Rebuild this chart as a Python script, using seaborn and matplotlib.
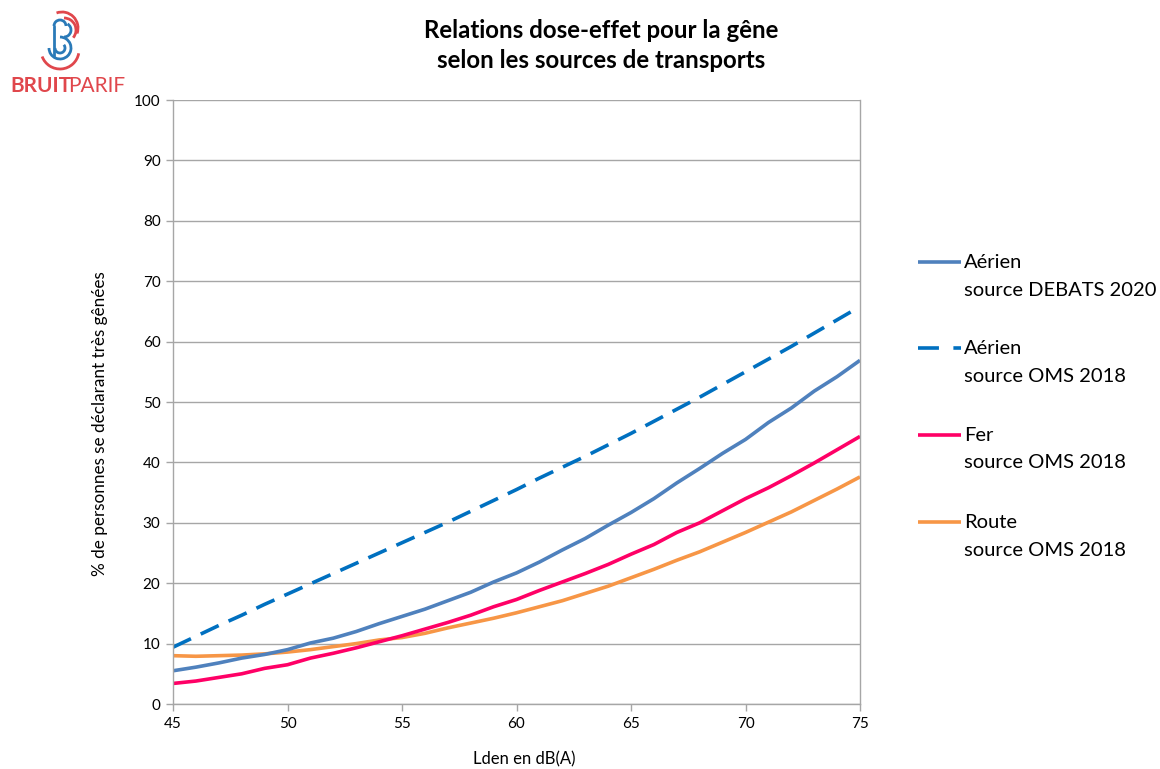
import numpy as np
import pandas as pd
import matplotlib
matplotlib.use("Agg")
import matplotlib.pyplot as plt
from matplotlib.lines import Line2D
from matplotlib.patches import Arc
import seaborn as sns

# Niveaux Lden (dB(A))
lden = list(range(45, 76))

# % de personnes se déclarant très gênées
aerien_debats = [5.5, 6.1, 6.8, 7.6, 8.2, 9.0, 10.1, 10.9, 12.0, 13.3, 14.5,
                 15.7, 17.1, 18.5, 20.2, 21.7, 23.5, 25.5, 27.4, 29.6, 31.7,
                 34.0, 36.6, 39.0, 41.5, 43.8, 46.6, 49.0, 51.8, 54.2, 56.9]
aerien_oms = [9.4, 11.2, 13.0, 14.7, 16.5, 18.2, 19.9, 21.6, 23.3, 25.0, 26.7,
              28.4, 30.1, 31.9, 33.7, 35.5, 37.4, 39.2, 41.0, 42.9, 44.8,
              46.8, 48.8, 50.8, 52.9, 55.0, 57.1, 59.2, 61.4, 63.6, 65.8]
fer_oms = [3.4, 3.8, 4.4, 5.0, 5.9, 6.5, 7.6, 8.4, 9.3, 10.3, 11.3,
           12.4, 13.5, 14.7, 16.1, 17.3, 18.8, 20.2, 21.6, 23.1, 24.8,
           26.4, 28.4, 30.0, 32.0, 34.0, 35.8, 37.8, 39.9, 42.1, 44.3]
route_oms = [8.0, 7.9, 8.0, 8.1, 8.3, 8.6, 9.0, 9.5, 10.0, 10.6, 11.0,
             11.7, 12.6, 13.4, 14.2, 15.1, 16.1, 17.1, 18.3, 19.5, 20.9,
             22.3, 23.8, 25.2, 26.8, 28.4, 30.1, 31.8, 33.7, 35.6, 37.6]

labels = ["Aérien\nsource DEBATS 2020", "Aérien\nsource OMS 2018",
          "Fer\nsource OMS 2018", "Route\nsource OMS 2018"]
colors = ["#4f81bd", "#0070c0", "#ff0066", "#f79646"]
styles = ["-", (0, (5.5, 3.0)), "-", "-"]

sns.set_theme(style="white")
plt.rcParams["font.family"] = ["Lato", "DejaVu Sans"]

df = pd.DataFrame({"Lden": lden, labels[0]: aerien_debats, labels[1]: aerien_oms,
                   labels[2]: fer_oms, labels[3]: route_oms})
long = df.melt(id_vars="Lden", var_name="serie", value_name="pct")

fig = plt.figure(figsize=(11.6, 7.69), dpi=100)
ax = fig.add_axes([173 / 1160, 1 - 704 / 769, (860 - 173) / 1160, (704 - 100) / 769])

draw_order = [3, 2, 0, 1]
for i in draw_order:
    sub = long[long["serie"] == labels[i]]
    sns.lineplot(data=sub, x="Lden", y="pct", ax=ax, color=colors[i],
                 linewidth=2.6, legend=False)
    ax.lines[-1].set_linestyle(styles[i])
    ax.lines[-1].set_solid_capstyle("butt")
    ax.lines[-1].set_dash_capstyle("butt")

grid_c = "#a6a6a6"
ax.set_xlim(45, 75)
ax.set_ylim(0, 100)
ax.set_xticks(range(45, 76, 5))
ax.set_yticks(range(0, 101, 10))
ax.yaxis.grid(True, color=grid_c, linewidth=1.0)
ax.xaxis.grid(False)
ax.set_axisbelow(True)
for s in ["left", "bottom", "right"]:
    ax.spines[s].set_visible(True)
    ax.spines[s].set_color(grid_c)
    ax.spines[s].set_linewidth(1.0)
ax.spines["top"].set_visible(False)
ax.tick_params(axis="both", which="major", direction="out", length=5, width=1.0,
               color=grid_c, labelsize=11, labelcolor="#000000", pad=4,
               bottom=True, left=True)
ax.set_xlabel("Lden en dB(A)", fontsize=12, color="#000000")
ax.set_ylabel("% de personnes se déclarant très gênées", fontsize=12.3,
              color="#000000")
ax.xaxis.set_label_coords(0.512, -0.078)
ax.yaxis.set_label_coords(-0.095, 0.465)

fig.text(0.518, 1 - 31 / 769, "Relations dose-effet pour la gêne", ha="center",
         va="center", fontsize=17.3, fontweight="bold", color="#000000")
fig.text(0.518, 1 - 60 / 769, "selon les sources de transports", ha="center",
         va="center", fontsize=17.3, fontweight="bold", color="#000000")

# Légende
leg_y = [262, 348, 435, 522]
for i, y in enumerate(leg_y):
    yf = 1 - y / 769
    fig.add_artist(Line2D([918 / 1160, 961 / 1160], [yf, yf], transform=fig.transFigure,
                          color=colors[i], linewidth=2.6,
                          linestyle=(0, (5.8, 4.0)) if i == 1 else "-",
                          solid_capstyle="butt", dash_capstyle="butt"))
    first, second = labels[i].split("\n")
    fig.text(964 / 1160, yf, first, ha="left", va="center", fontsize=14.5, color="#000000")
    fig.text(964 / 1160, 1 - (y + 28) / 769, second, ha="left", va="center",
             fontsize=14.5, color="#000000")

# Logo Bruitparif
red = "#e0474c"
blue = "#2a7ab8"
fig.text(10 / 1160, 1 - 86 / 769, "BRUIT", ha="left", va="center", fontsize=15,
         fontweight="bold", color=red)
fig.text(68 / 1160, 1 - 86 / 769, "PARIF", ha="left", va="center", fontsize=15,
         color=red)
logo = fig.add_axes([38 / 1160, 1 - 72 / 769, 50 / 1160, 64 / 769])
logo.set_xlim(0, 50)
logo.set_ylim(0, 64)
logo.set_aspect("equal")
logo.axis("off")
logo.plot([16, 16], [16, 46], color=blue, linewidth=2.0)
logo.add_patch(Arc((22, 46), 12, 12, theta1=0, theta2=180, color=blue, lw=2.0))
logo.add_patch(Arc((22, 24), 22, 22, theta1=180, theta2=450, color=blue, lw=2.0))
logo.add_patch(Arc((26, 42), 14, 14, theta1=-90, theta2=60, color=blue, lw=2.0))
logo.add_patch(Arc((22, 24), 10, 10, theta1=180, theta2=400, color=blue, lw=2.0))
logo.add_patch(Arc((24, 44), 32, 32, theta1=-20, theta2=110, color=red, lw=2.0))
logo.add_patch(Arc((22, 22), 38, 38, theta1=200, theta2=350, color=red, lw=2.0))
logo.add_patch(Arc((26, 42), 24, 24, theta1=-40, theta2=90, color=red, lw=2.0))

fig.savefig("out.png", dpi=100, facecolor="white")
